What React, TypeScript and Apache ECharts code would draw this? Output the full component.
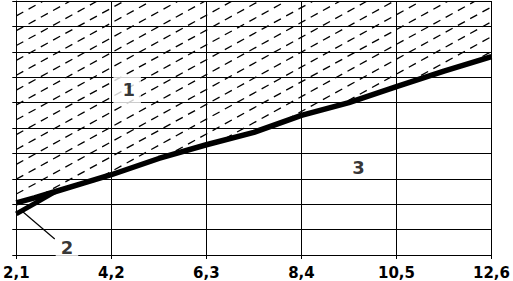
import React, { useEffect, useRef } from 'react';
import * as echarts from 'echarts';

const xTicks = [2.1, 4.2, 6.3, 8.4, 10.5, 12.6];
const xValues = [2.1, 2.5, 2.95, 3.6, 4.2, 5.25, 6.3, 7.35, 8.4, 9.45, 10.5, 11.55, 12.6];
const curve1 = [2.05, 2.25, 2.49, 2.84, 3.16, 3.8, 4.34, 4.83, 5.5, 6.0, 6.63, 7.24, 7.81];
const curve2x = [2.1, 2.5, 2.95];
const curve2 = [1.62, 2.02, 2.49];
const yMin = 0;
const yMax = 10;
const regionNames = ['1', '2', '3'];
const regionX = [4.55, 3.22, 9.66];
const regionY = [6.5, 0.3, 3.43];
const leaderX = [2.25, 2.95];
const leaderY = [1.69, 0.63];

export default function App() {
  const ref = useRef<HTMLDivElement>(null);
  useEffect(() => {
    if (!ref.current) return;
    const chart = echarts.init(ref.current, null, { renderer: 'svg' });
    const fmt = (v: number) => v.toFixed(1).replace('.', ',');
    const black = '#000';
    const option: any = {
      animation: false,
      grid: { left: 11, right: 20, top: 1, bottom: 26 },
      xAxis: {
        type: 'value',
        min: xTicks[0],
        max: xTicks[xTicks.length - 1],
        interval: 2.1,
        axisLine: { show: true, lineStyle: { color: black, width: 1 } },
        axisTick: { show: true, length: 4, lineStyle: { color: black } },
        splitLine: { show: true, lineStyle: { color: black, width: 1 } },
        axisLabel: {
          formatter: fmt,
          color: black,
          fontFamily: 'DejaVu Sans',
          fontWeight: 'bold',
          fontSize: 15,
          margin: 10,
        },
      },
      yAxis: {
        type: 'value',
        min: yMin,
        max: yMax,
        interval: 1,
        axisLine: { show: true, lineStyle: { color: black, width: 1 } },
        axisTick: { show: true, length: 4, lineStyle: { color: black } },
        splitLine: { show: true, lineStyle: { color: black, width: 1 } },
        axisLabel: { show: false },
      },
      series: [
        {
          type: 'custom',
          data: [[0]],
          silent: true,
          z: 1,
          renderItem: (params: any, api: any) => {
            const pts: number[][] = xValues.map((x, i) => api.coord([x, curve1[i]]));
            const tr = api.coord([xValues[xValues.length - 1], yMax]);
            const tl = api.coord([xValues[0], yMax]);
            const poly = [...pts, tr, tl];
            const left = tl[0];
            const right = tr[0];
            const top = tl[1];
            const bottom = api.coord([xValues[0], yMin])[1];
            const s = 0.55;
            const step = 27 * s;
            const children: any[] = [];
            for (let c = top + s * left; c <= bottom + s * right + step; c += step) {
              children.push({
                type: 'line',
                shape: { x1: left, y1: c - s * left, x2: right, y2: c - s * right },
                style: { stroke: black, lineWidth: 1.3, lineDash: [8, 6] },
              });
            }
            return {
              type: 'group',
              clipPath: { type: 'polygon', shape: { points: poly } },
              children,
            };
          },
        },
        {
          type: 'line',
          data: xValues.map((x, i) => [x, curve1[i]]),
          symbol: 'none',
          z: 3,
          lineStyle: { color: black, width: 5.5 },
        },
        {
          type: 'line',
          data: curve2x.map((x, i) => [x, curve2[i]]),
          symbol: 'none',
          z: 3,
          lineStyle: { color: black, width: 5 },
        },
        {
          type: 'line',
          data: leaderX.map((x, i) => [x, leaderY[i]]),
          symbol: 'none',
          z: 3,
          lineStyle: { color: black, width: 1.2 },
        },
        {
          type: 'scatter',
          symbolSize: 0,
          z: 5,
          data: regionNames.map((n, i) => ({
            value: [regionX[i], regionY[i]],
            name: n,
            label: {
              backgroundColor: i === 2 ? 'transparent' : '#fff',
              padding: i === 0 ? [6, 6, 6, 9] : [5, 5, 5, 5],
            },
          })),
          label: {
            show: true,
            position: 'inside',
            formatter: (p: any) => p.name,
            color: black,
            fontFamily: 'DejaVu Sans',
            fontWeight: 'bold',
            fontSize: 18,
          },
        },
      ],
    };
    chart.setOption(option);
    return () => chart.dispose();
  }, []);
  return (
    <div
      ref={ref}
      style={{ position: 'fixed', left: 0, top: 0, width: 513, height: 281, background: '#fff' }}
    />
  );
}
